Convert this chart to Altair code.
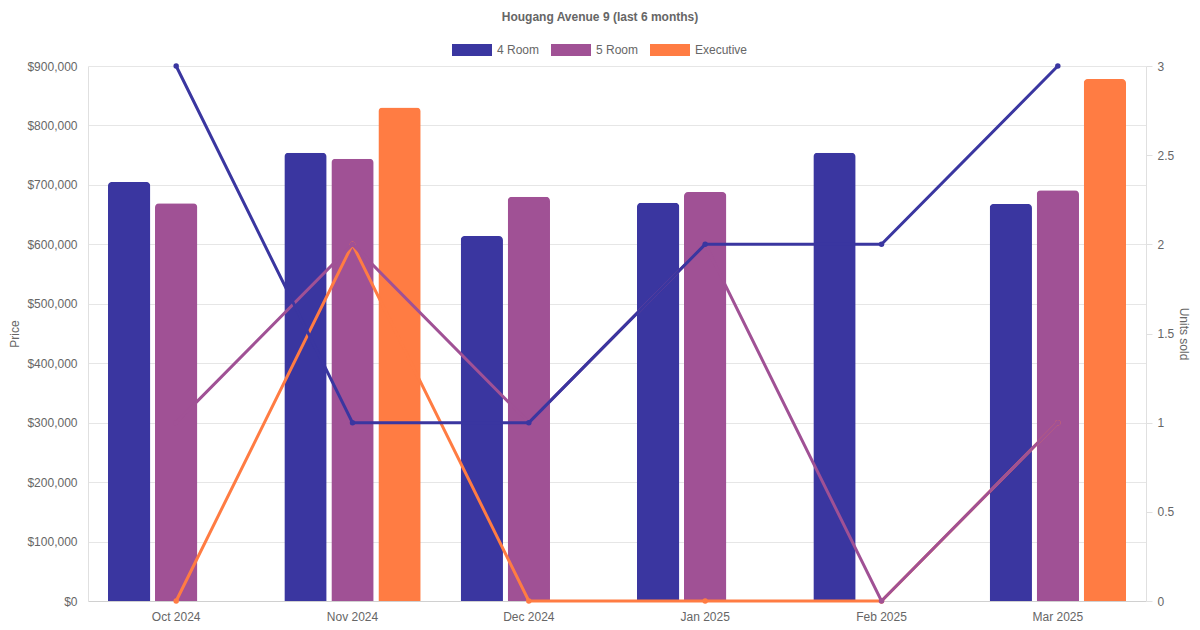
import altair as alt
import pandas as pd

months = ["Oct 2024", "Nov 2024", "Dec 2024", "Jan 2025", "Feb 2025", "Mar 2025"]
series = ["4 Room", "5 Room", "Executive"]
colors = ["#3a36a0", "#a05195", "#ff7c43"]

price_4room = [705000, 754000, 614000, 670000, 754000, 668000]
price_5room = [669000, 744000, 680000, 688000, None, 691000]
price_exec = [None, 830000, None, None, None, 878000]

units_4room = [3, 1, 1, 2, 2, 3]
units_5room = [1, 2, 1, 2, 0, 1]
units_exec = [0, 2, 0, 0, 0, 1]

prices = {"4 Room": price_4room, "5 Room": price_5room, "Executive": price_exec}
units = {"4 Room": units_4room, "5 Room": units_5room, "Executive": units_exec}

rows = []
for s in series:
    for m, p, u in zip(months, prices[s], units[s]):
        rows.append({"month": m, "series": s, "price": p, "units": u})
df = pd.DataFrame(rows)

FONT = "Liberation Sans"
TXT = "#666666"

x_enc = alt.X("month:N", sort=months, scale=alt.Scale(paddingInner=0.2, paddingOuter=0.1),
              axis=alt.Axis(title=None, labelAngle=0, ticks=False, labelPadding=10,
                            domainColor="#d0d0d0", grid=False))

bars = alt.Chart(df).mark_bar(cornerRadiusTopLeft=4, cornerRadiusTopRight=4).encode(
    x=x_enc,
    xOffset=alt.XOffset("series:N", sort=series,
                        scale=alt.Scale(domain=series, paddingInner=0.1, paddingOuter=0.05)),
    y=alt.Y("price:Q", scale=alt.Scale(domain=[0, 900000], nice=False),
            axis=alt.Axis(title="Price", values=list(range(0, 900001, 100000)), format="$,.0f",
                          ticks=False, labelPadding=11, titlePadding=5, grid=True,
                          gridColor="#e6e6e6", domainColor="#e0e0e0")),
    color=alt.Color("series:N", sort=series,
                    scale=alt.Scale(domain=series, range=colors),
                    legend=alt.Legend(orient="none", direction="horizontal", legendX=364, legendY=-36,
                                      title=None,
                                      symbolType="M-1,-0.3L1,-0.3L1,0.3L-1,0.3Z",
                                      symbolSize=1600, symbolStrokeWidth=0, symbolOpacity=1,
                                      labelFont=FONT, labelFontSize=12, labelColor=TXT,
                                      labelOffset=5, columnPadding=11)),
)

line_layers = []
for s, c in zip(reversed(series), reversed(colors)):
    sub = df[df["series"] == s]
    line_layers.append(
        alt.Chart(sub).mark_line(color=c, strokeWidth=3,
                                 point=alt.OverlayMarkDef(filled=True, color=c, size=30, opacity=1)).encode(
            x=alt.X("month:N", sort=months),
            y=alt.Y("units:Q", scale=alt.Scale(domain=[0, 3], nice=False),
                    axis=alt.Axis(title="Units sold", orient="right", values=[0, 0.5, 1, 1.5, 2, 2.5, 3],
                                  format="~g", grid=False, tickSize=6, tickColor="#e0e0e0",
                                  labelPadding=5, titlePadding=3, domainColor="#e0e0e0")),
        )
    )
lines = alt.layer(*line_layers)

chart = alt.layer(bars, lines).resolve_scale(y="independent").properties(
    width=1058, height=535,
    autosize=alt.AutoSizeParams(type="none"),
    padding={"left": 80, "top": 58, "right": 46, "bottom": 21},
    title=alt.TitleParams(text="Hougang Avenue 9 (last 6 months)", anchor="middle", fontSize=12,
                          fontWeight="bold", color=TXT, font=FONT, offset=6, dx=-17),
).configure_view(stroke=None).configure_axis(
    labelFont=FONT, labelFontSize=12, labelColor=TXT,
    titleFont=FONT, titleFontSize=12, titleColor=TXT, titleFontWeight="normal",
)

chart.save("out.html", embed_options={"renderer": "svg", "actions": False})
